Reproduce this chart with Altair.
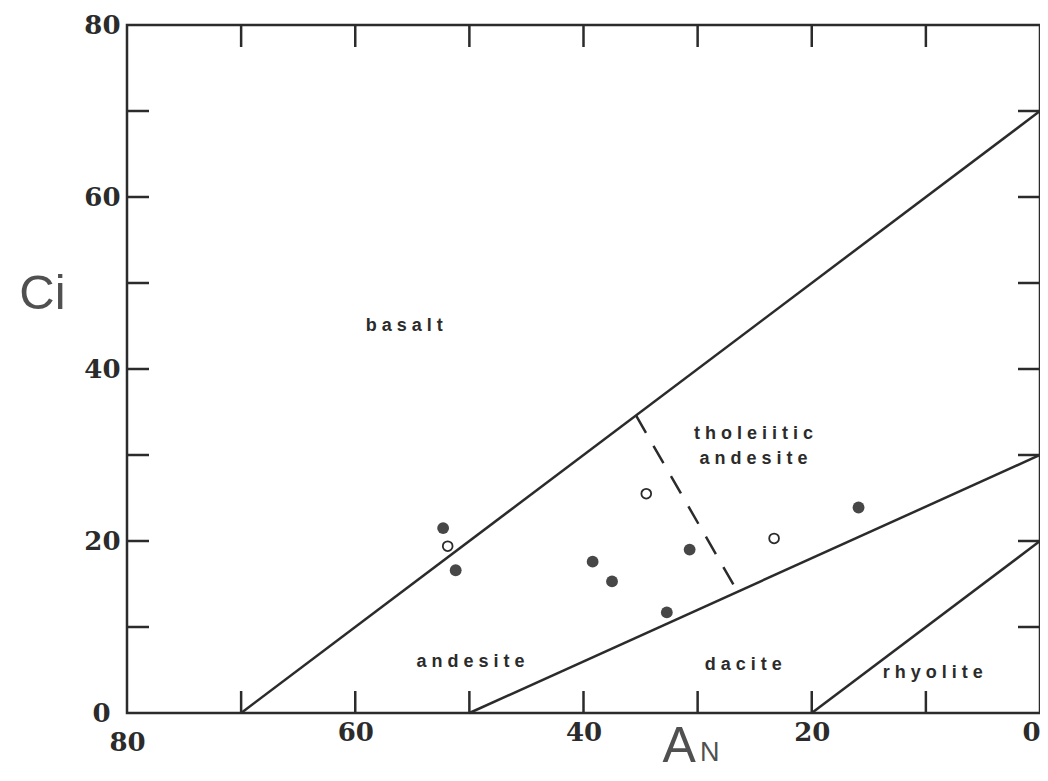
import altair as alt
import pandas as pd

# ---- data ----
bnd_id = ["b1", "b1", "b2", "b2", "b3", "b3"]
bnd_an = [70, 0, 50, 0, 20, 0]
bnd_ci = [0, 70, 0, 30, 0, 20]

dash_an = [35.4, 26.5]
dash_ci = [34.6, 14.1]

filled_an = [52.3, 51.2, 39.2, 37.5, 32.7, 30.7, 15.9]
filled_ci = [21.5, 16.6, 17.6, 15.3, 11.7, 19.0, 23.9]

open_an = [51.9, 34.5, 23.3]
open_ci = [19.4, 25.5, 20.3]

region_text = ["basalt", "tholeiitic", "andesite", "andesite", "dacite", "rhyolite"]
region_an = [55.7, 25.1, 25.1, 49.9, 26.0, 9.4]
region_ci = [44.4, 31.9, 29.0, 5.3, 5.0, 4.1]

tick_vals = [10, 20, 30, 40, 50, 60, 70]
x_labels = [80, 60, 40, 20, 0]
y_labels = [0, 20, 40, 60, 80]

W, H = 913, 688
TL = 22
INK = "#2b2b2b"

def spaced(s):
    return " ".join(list(s))

df_bnd = pd.DataFrame({"id": bnd_id, "an": bnd_an, "ci": bnd_ci})
df_dash = pd.DataFrame({"an": dash_an, "ci": dash_ci})
df_fill = pd.DataFrame({"an": filled_an, "ci": filled_ci})
df_open = pd.DataFrame({"an": open_an, "ci": open_ci})
df_lab = pd.DataFrame({"label": [spaced(t) for t in region_text], "an": region_an, "ci": region_ci})
df_tx = pd.DataFrame({"an": tick_vals})
df_ty = pd.DataFrame({"ci": tick_vals})
df_sub = pd.DataFrame({"t": ["N"]})

x_enc = alt.X(
    "an:Q",
    scale=alt.Scale(domain=[0, 80], reverse=True, nice=False, zero=False),
    axis=alt.Axis(
        values=x_labels, ticks=False, domain=False, grid=False,
        title="A", titleFont="Liberation Sans", titleFontSize=50, titleFontWeight="normal",
        titleColor="#505050", titleAlign="left", titleBaseline="alphabetic",
        titleX=535, titleY=48, titleAngle=0,
        labelFont="DejaVu Serif", labelFontSize=26, labelFontWeight="bold", labelColor=INK,
        labelFlush=False,
        labelPadding={"condition": {"test": "datum.value == 80", "value": 16}, "value": 6},
        labelAlign={"condition": {"test": "datum.value == 0", "value": "right"}, "value": "center"},
    ),
)
y_enc = alt.Y(
    "ci:Q",
    scale=alt.Scale(domain=[0, 80], nice=False, zero=False),
    axis=alt.Axis(
        values=y_labels, ticks=False, domain=False, grid=False,
        title="Ci", titleFont="Liberation Sans", titleFontSize=49, titleFontWeight="normal",
        titleColor="#505050", titleAlign="center", titleBaseline="alphabetic",
        titleX=-85, titleY=283, titleAngle=0,
        labelFont="DejaVu Serif", labelFontSize=26, labelFontWeight="bold", labelColor=INK,
        labelFlush=False,
        labelPadding={"condition": {"test": "datum.value == 0", "value": 17}, "value": 7},
    ),
)

lines = alt.Chart(df_bnd).mark_line(color=INK, strokeWidth=2.5).encode(
    x=x_enc, y=y_enc, detail="id:N")
dash = alt.Chart(df_dash).mark_line(color=INK, strokeWidth=2.5, strokeDash=[20, 15]).encode(
    x=x_enc, y=y_enc)
filled = alt.Chart(df_fill).mark_circle(size=140, color="#474747", opacity=1).encode(
    x=x_enc, y=y_enc)
opened = alt.Chart(df_open).mark_circle(size=95, fill="white", stroke=INK, strokeWidth=1.8,
                                         opacity=1).encode(x=x_enc, y=y_enc)
labels = alt.Chart(df_lab).mark_text(font="Liberation Sans", fontWeight="bold", fontSize=18,
                                     color=INK, align="center", baseline="alphabetic").encode(
    x=x_enc, y=y_enc, text="label:N")

t_bottom = alt.Chart(df_tx).mark_rule(color=INK, strokeWidth=2.5).encode(
    x=x_enc, y=alt.value(H), y2=alt.value(H - TL))
t_top = alt.Chart(df_tx).mark_rule(color=INK, strokeWidth=2.5).encode(
    x=x_enc, y=alt.value(0), y2=alt.value(TL))
t_left = alt.Chart(df_ty).mark_rule(color=INK, strokeWidth=2.5).encode(
    y=y_enc, x=alt.value(0), x2=alt.value(TL))
t_right = alt.Chart(df_ty).mark_rule(color=INK, strokeWidth=2.5).encode(
    y=y_enc, x=alt.value(W - TL), x2=alt.value(W))

sub = alt.Chart(df_sub).mark_text(font="Liberation Sans", fontSize=27, color="#505050",
                                  align="left", baseline="alphabetic").encode(
    x=alt.value(573), y=alt.value(736), text="t:N")

chart = alt.layer(lines, dash, t_bottom, t_top, t_left, t_right, filled, opened, labels, sub).properties(
    width=W, height=H,
    autosize=alt.AutoSizeParams(type="none"),
    padding={"left": 119, "top": 17, "right": 0, "bottom": 60},
    background="white",
).configure_view(stroke=INK, strokeWidth=2.5)

chart.save("out.html", embed_options={"renderer": "svg", "actions": False})
